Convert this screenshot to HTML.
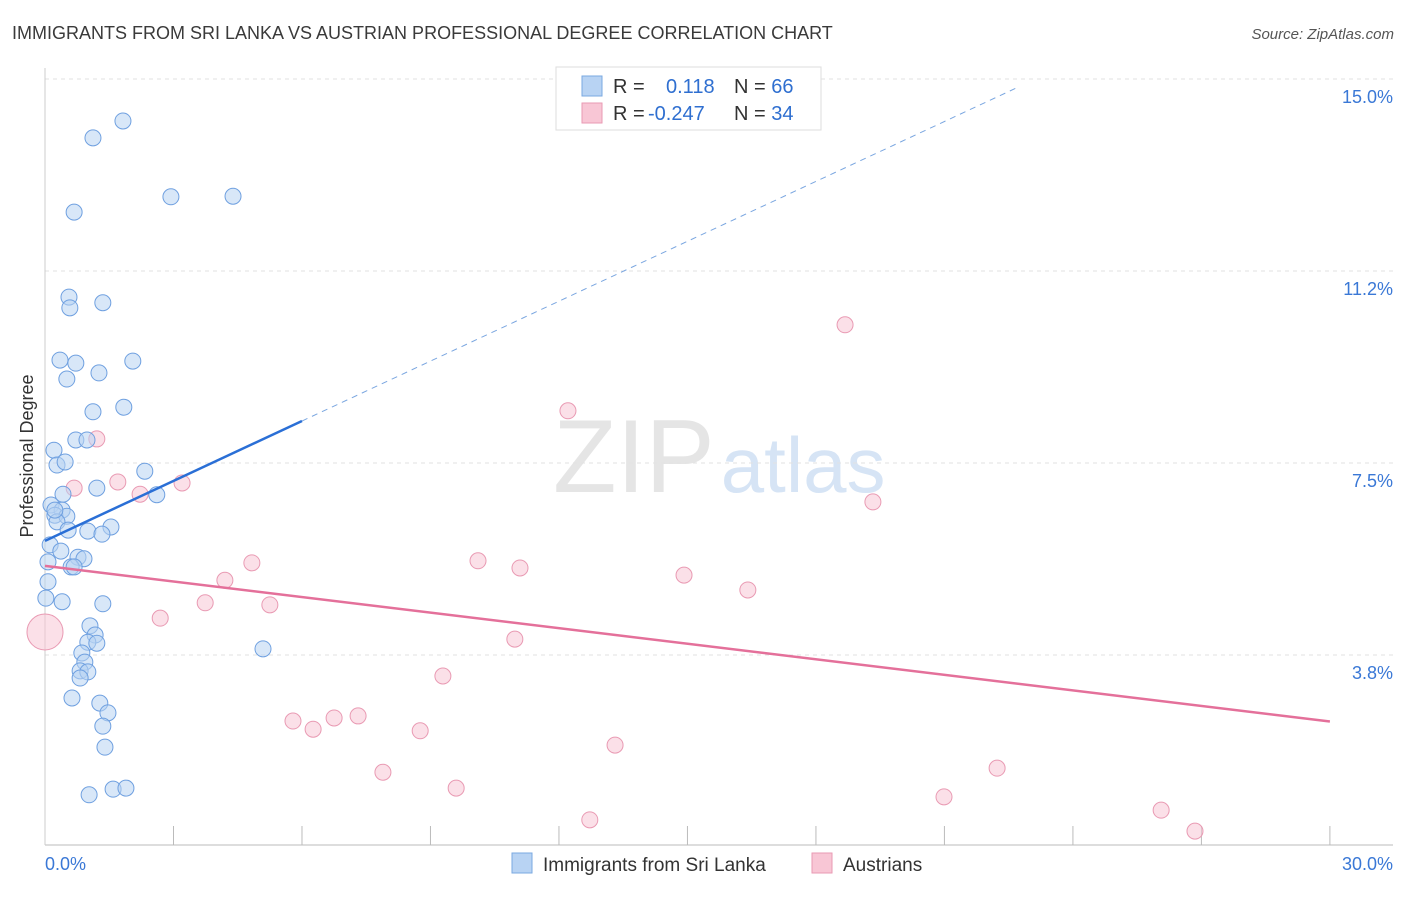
<!DOCTYPE html>
<html><head><meta charset="utf-8"><style>
body{margin:0;background:#fff;font-family:"Liberation Sans",sans-serif;}
svg text{font-family:"Liberation Sans",sans-serif;}
</style></head><body>
<svg id="chart" width="1406" height="892" xmlns="http://www.w3.org/2000/svg">
<text x="12" y="39" font-size="18" fill="#3a3a3a">IMMIGRANTS FROM SRI LANKA VS AUSTRIAN PROFESSIONAL DEGREE CORRELATION CHART</text>
<text x="1394" y="39" font-size="15" fill="#555" text-anchor="end" font-style="italic">Source: ZipAtlas.com</text>
<text x="553" y="492" font-size="104" fill="#ddd" font-family="Liberation Serif" opacity="0.75">ZIP<tspan fill="#c9dcf2" font-family="Liberation Sans" font-size="78" dx="6">atlas</tspan></text>
<g id="grid"></g><g id="axes"></g><g id="marks"></g>
<text transform="translate(33,456) rotate(-90)" font-size="18" fill="#333" text-anchor="middle">Professional Degree</text>
<g>
<rect x="556" y="67" width="265" height="63" fill="#fff" stroke="#ddd"/>
<rect x="582" y="76" width="20" height="20" fill="#b8d3f3" stroke="#7aa8e0"/>
<rect x="582" y="103" width="20" height="20" fill="#f8c6d5" stroke="#e99ab3"/>
<text x="613" y="93" font-size="20" fill="#333">R = <tspan fill="#2f6fd0" x="666">0.118</tspan><tspan fill="#333" x="734">N = </tspan><tspan fill="#2f6fd0">66</tspan></text>
<text x="613" y="120" font-size="20" fill="#333">R = <tspan fill="#2f6fd0" x="648">-0.247</tspan><tspan fill="#333" x="734">N = </tspan><tspan fill="#2f6fd0">34</tspan></text>
</g>
<g>
<rect x="512" y="853" width="20" height="20" fill="#b8d3f3" stroke="#7aa8e0"/>
<text x="543" y="871" font-size="19" fill="#333">Immigrants from Sri Lanka</text>
<rect x="812" y="853" width="20" height="20" fill="#f8c6d5" stroke="#e99ab3"/>
<text x="843" y="871" font-size="19" fill="#333">Austrians</text>
</g>
</svg>
<script>
const blueX=[1.82,1.12,0.68,2.94,4.39,0.56,0.58,1.35,0.35,0.72,2.05,1.26,0.51,1.12,1.84,0.72,0.98,0.21,0.28,0.47,2.33,1.21,0.42,2.61,0.14,0.40,0.23,0.51,0.28,0.54,1.00,1.54,1.33,0.12,0.37,0.77,0.91,0.07,0.61,0.68,0.07,0.02,0.40,1.35,1.05,1.17,1.00,1.21,5.09,0.86,0.93,0.82,1.00,0.82,0.63,1.28,1.47,1.35,1.40,1.03,1.59,1.89,0.23];
const blueY=[14.18,13.85,12.40,12.70,12.71,10.74,10.53,10.63,9.51,9.45,9.49,9.26,9.14,8.50,8.59,7.95,7.95,7.75,7.46,7.52,7.34,7.01,6.89,6.88,6.68,6.58,6.48,6.46,6.35,6.19,6.17,6.25,6.11,5.90,5.78,5.66,5.63,5.57,5.47,5.47,5.18,4.86,4.79,4.75,4.32,4.14,4.00,3.98,3.87,3.79,3.61,3.44,3.42,3.30,2.91,2.81,2.62,2.36,1.95,1.02,1.13,1.15,6.58];
const pinkX=[0,1.21,0.68,1.70,3.20,2.22,4.83,4.20,3.74,5.25,2.69,12.21,18.68,19.33,10.11,11.09,14.92,16.41,10.97,9.29,5.79,6.26,6.75,7.31,8.76,7.89,9.60,13.31,12.72,20.99,22.23,26.06,26.85,13.80];
const pinkY=[4.20,7.97,7.01,7.13,7.11,6.89,5.55,5.21,4.77,4.73,4.47,8.52,10.20,6.74,5.59,5.45,5.31,5.02,4.06,3.34,2.46,2.30,2.52,2.56,2.27,1.46,1.15,1.99,0.53,0.98,1.54,0.72,0.31,14.26];
const pinkSize=[18];
const yTicks=[3.75,7.5,11.25,15.0];
const yTickLabels=["3.8%","7.5%","11.2%","15.0%"];
const blueTrend=[5.98,0.39];
const pinkTrend=[5.49,-0.1013];
const NS="http://www.w3.org/2000/svg";
const X=v=>45+v*42.83, Y=v=>847-v*51.2;
function mk(t,a,p){const e=document.createElementNS(NS,t);for(const k in a)e.setAttribute(k,a[k]);document.getElementById(p).appendChild(e);return e;}
yTicks.forEach((t,i)=>{
 const l=mk('line',{x1:45,x2:1393,y1:Y(t),y2:Y(t),stroke:'#e2e2e2','stroke-dasharray':'4,4'},'grid');
 
 
 const tx=mk('text',{x:1393,y:Y(t)+24,'font-size':18,fill:'#3a78d6','text-anchor':'end'},'axes');
 tx.textContent=yTickLabels[i];
 
 
});
let ax=mk('line',{x1:45,x2:1393,y1:845,y2:845,stroke:'#bbb'},'axes');


let ay=mk('line',{x1:45,x2:45,y1:68,y2:845,stroke:'#ccc'},'axes');


for(let i=1;i<=10;i++){const tk=mk('line',{x1:X(i*3),x2:X(i*3),y1:826,y2:845,stroke:'#bbb'},'axes');
 
 }
[["0.0%",45,'start'],["30.0%",1393,'end']].forEach(d=>{const t=mk('text',{x:d[1],y:870,'font-size':18,fill:'#3a78d6','text-anchor':d[2]},'axes');t.textContent=d[0];
 
 });
pinkX.forEach((x,i)=>{const c=mk('circle',{cx:X(x),cy:Y(pinkY[i]),r:i===0?pinkSize[0]:8,fill:'#f8c6d5','fill-opacity':0.55,stroke:'#e99ab3','stroke-width':1},'marks');
 
 });
blueX.forEach((x,i)=>{const c=mk('circle',{cx:X(x),cy:Y(blueY[i]),r:8,fill:'#b8d3f3','fill-opacity':0.55,stroke:'#6fa0e0','stroke-width':1},'marks');
 
 });
const bt=x=>blueTrend[0]+blueTrend[1]*x, pt=x=>pinkTrend[0]+pinkTrend[1]*x;
let l1=mk('line',{x1:X(0),y1:Y(bt(0)),x2:X(6),y2:Y(bt(6)),stroke:'#2a6fd6','stroke-width':2.5},'marks');


let l2=mk('line',{x1:X(6),y1:Y(bt(6)),x2:X(22.7),y2:Y(bt(22.7)),stroke:'#7aa6e0','stroke-width':1,'stroke-dasharray':'6,5'},'marks');


let l3=mk('line',{x1:X(0),y1:Y(pt(0)),x2:X(30),y2:Y(pt(30)),stroke:'#e4709a','stroke-width':2.5},'marks');


</script>
</body></html>
